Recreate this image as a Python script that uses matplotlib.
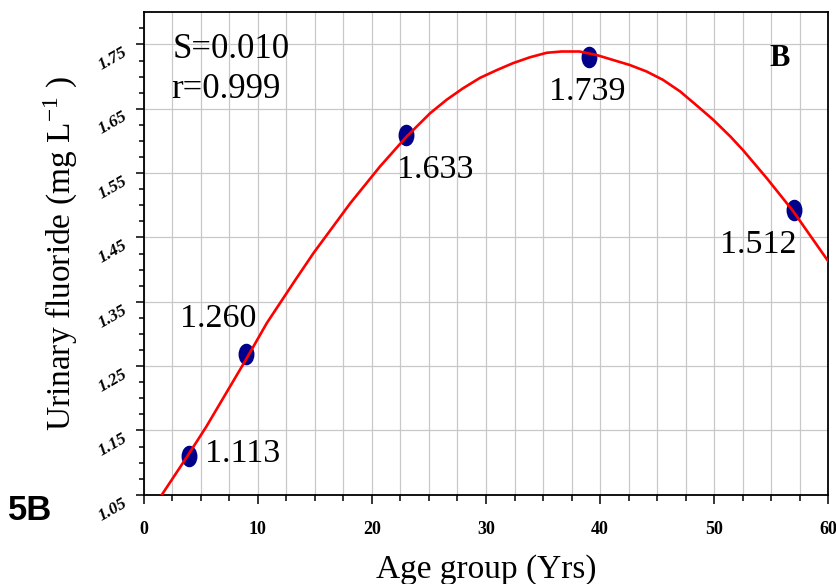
import numpy as np
import matplotlib
matplotlib.use('Agg')
import matplotlib.pyplot as plt
from matplotlib.path import Path
from matplotlib.transforms import Affine2D

plt.rcParams['font.family'] = ['Liberation Serif', 'DejaVu Serif']
plt.rcParams['mathtext.fontset'] = 'stix'

# measured points (age group vs urinary fluoride)
age = [4, 9, 23, 39, 57]
fluoride = [1.110, 1.269, 1.610, 1.730, 1.492]
point_labels = ['1.113', '1.260', '1.633', '1.739', '1.512']

# fitted curve
curve_x = [1.6, 3.8, 5.5, 7.4, 8.9, 10.8, 13.3, 14.9, 18.1, 20.7, 23.0, 25.1,
           26.55, 28.0, 29.47, 30.93, 32.38, 33.84, 35.31, 36.6, 38.2, 39.7,
           41.1, 42.6, 44.06, 45.5, 47.0, 48.4, 49.9, 51.4, 52.5, 54.6, 56.9,
           60.0]
curve_y = [1.050, 1.109, 1.156, 1.213, 1.258, 1.317, 1.384, 1.426, 1.503, 1.560,
           1.606, 1.643, 1.664, 1.682, 1.698, 1.710, 1.721, 1.730, 1.737, 1.739,
           1.739, 1.7335, 1.726, 1.718, 1.708, 1.695, 1.677, 1.656, 1.633, 1.607,
           1.586, 1.542, 1.491, 1.4125]

fit_text = ['S=0.010', 'r=0.999']

fig = plt.figure(figsize=(8.37, 5.84), dpi=100)
ax = fig.add_axes([0.1715, 0.1527, 0.8183, 0.8263])

ax.plot(curve_x, curve_y, color='red', lw=1.9, zorder=3)

# slightly tall ellipse marker
ell = Path.unit_circle().transformed(Affine2D().scale(0.72, 1.0))
ax.plot(age, fluoride, ls='none', marker=ell, ms=14.5, color='#00008B', zorder=2)

# value labels next to each point
lab_x = [5.39, 3.2, 22.17, 35.53, 50.48]
lab_y = [1.1015, 1.3114, 1.5422, 1.664, 1.4256]
for x, y, s in zip(lab_x, lab_y, point_labels):
    ax.text(x, y, s, fontsize=24.5, va='baseline', ha='left')

ax.text(2.58, 1.729, fit_text[0], fontsize=25, va='baseline', ha='left')
ax.text(2.45, 1.667, fit_text[1], fontsize=25, va='baseline', ha='left')
ax.text(54.86, 1.717, 'B', fontsize=22, fontweight='bold', va='baseline', ha='left')

ax.set_xlim(0, 60)
ax.set_ylim(1.05, 1.80)
ax.set_xticks(np.arange(0, 61, 10))
ax.set_xticks(np.arange(0, 60.1, 2.5), minor=True)
ax.set_yticks(np.arange(1.05, 1.76, 0.1))
ax.set_yticks(np.arange(1.05, 1.80, 0.025), minor=True)
ax.set_yticklabels(['%.2f' % v for v in np.arange(1.05, 1.76, 0.1)])

ax.grid(True, which='minor', axis='x', color='#c8c8c8', lw=0.9)
ax.grid(True, which='major', axis='x', color='#c8c8c8', lw=0.9)
ax.grid(True, which='major', axis='y', color='#c8c8c8', lw=0.9)
ax.set_axisbelow(True)

ax.tick_params(axis='x', which='major', direction='out', length=6.5, width=1.1,
               pad=12, labelsize=13)
ax.tick_params(axis='x', which='minor', direction='out', length=4.5, width=1.1)
ax.tick_params(axis='y', which='major', direction='out', length=5.5, width=1.1,
               pad=4, labelsize=12.5)
ax.tick_params(axis='y', which='minor', direction='out', length=3.5, width=1.1)
for t in ax.get_xticklabels():
    t.set_fontweight('bold')
for t in ax.get_yticklabels():
    t.set_fontweight('bold')
    t.set_fontstyle('italic')
    t.set_rotation(30)
    t.set_ha('right')
    t.set_va('top')

for sp in ax.spines.values():
    sp.set_linewidth(1.3)
    sp.set_color('black')

ax.set_xlabel('Age group (Yrs)', fontsize=24, labelpad=12)
ax.set_ylabel(r'Urinary fluoride (mg L$^{\mathregular{-1}}$ )', fontsize=24, labelpad=12)

fig.text(0.0096, 0.1096, '5B', fontsize=25, fontweight='bold',
         family=['Liberation Sans', 'DejaVu Sans'], va='baseline', ha='left')

fig.savefig('out.png', dpi=100)
